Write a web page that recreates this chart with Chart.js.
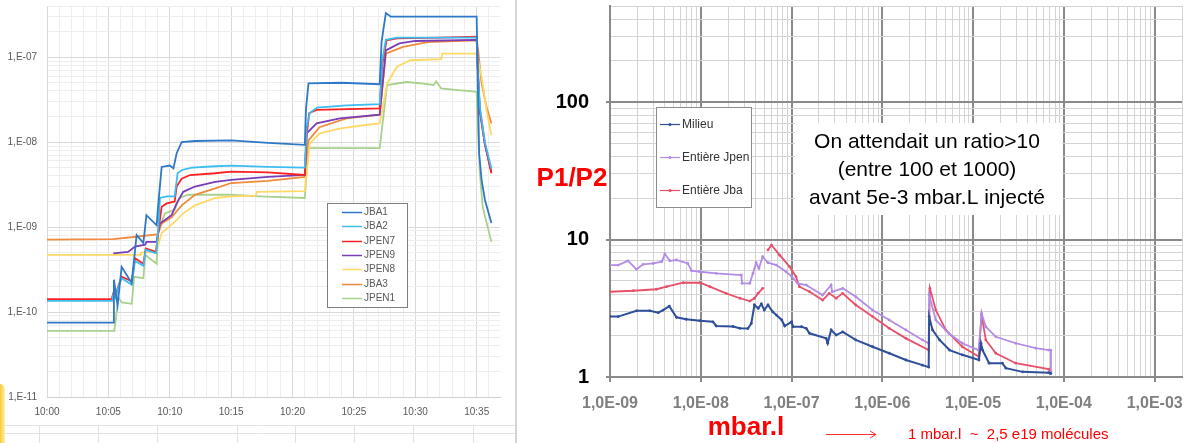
<!DOCTYPE html>
<html>
<head>
<meta charset="utf-8">
<script src="https://cdn.jsdelivr.net/npm/chart.js@4.4.1/dist/chart.umd.min.js"></script>
<style>
  html, body { margin: 0; padding: 0; background: #fff; }
  body { width: 1186px; height: 443px; position: relative; overflow: hidden; }
  #left { position: absolute; left: 0; top: 0; }
  #right { position: absolute; left: 520px; top: 0; }
  #sep { position: absolute; left: 515px; top: 0; width: 2px; height: 443px; background: #d6d6d6; }
  #blob { position: absolute; left: 0; top: 384px; width: 5px; height: 59px;
          background: linear-gradient(to right, #f5cc30, #fdf0b8); border-radius: 0 5px 0 0; }
</style>
</head>
<body>
<canvas id="left" width="515" height="443"></canvas>
<div id="sep"></div>
<div id="blob"></div>
<canvas id="right" width="666" height="443"></canvas>
<script>
  // ---- left chart : pressure vs time (minutes after 10:00) ----
  const timeLabels = ['10:00', '10:05', '10:10', '10:15', '10:20', '10:25', '10:30', '10:35'];
  const leftDecades = [1e-11, 1e-10, 1e-9, 1e-8, 1e-7];
  const leftYLabels = ['1,E-11', '1,E-10', '1,E-09', '1,E-08', '1,E-07'];
  const leftNames = ['JBA1', 'JBA2', 'JPEN7', 'JPEN9', 'JPEN8', 'JBA3', 'JPEN1'];

  const JBA1 = [[0, 7.5e-11], [5.4, 7.5e-11], [5.45, 2.4e-10], [5.75, 1.2e-10], [6.08, 3.4e-10], [6.9, 2.2e-10],
    [7.3, 8.1e-10], [7.85, 6.5e-10], [8.1, 1.38e-9], [8.93, 1.05e-9], [9.07, 1.9e-9], [9.34, 5.1e-9], [10.0, 5.3e-9],
    [10.3, 4.9e-9], [10.56, 7.4e-9], [10.97, 1.0e-8], [12.05, 1.03e-8], [15, 1.05e-8], [18, 9.8e-9], [21.0, 9.3e-9],
    [21.1, 2.5e-8], [21.3, 4.9e-8], [24, 5.0e-8], [27.1, 4.8e-8], [27.25, 1.5e-7], [27.6, 3.3e-7], [28.0, 3.0e-7],
    [35.0, 3.0e-7], [35.12, 3.1e-8], [35.2, 7.4e-9], [35.4, 3.6e-9], [35.67, 2.1e-9], [36.2, 1.12e-9]];
  const JBA2 = [[0, 1.35e-10], [5.3, 1.35e-10], [5.4, 1.6e-10], [5.6, 1.45e-10], [5.75, 1.85e-10], [6.08, 2.5e-10],
    [6.9, 2.1e-10], [7.17, 4.0e-10], [7.85, 3.5e-10], [8.04, 5.4e-10], [8.88, 4.9e-10], [9.07, 9.5e-10], [9.2, 2.2e-9],
    [9.75, 2.3e-9], [10.4, 2.3e-9], [10.64, 4.3e-9], [11.0, 4.7e-9], [11.8, 5.0e-9], [13.7, 5.2e-9], [15, 5.3e-9],
    [18, 5.1e-9], [21.0, 5.0e-9], [21.15, 1.5e-8], [21.4, 2.2e-8], [22.0, 2.55e-8], [24.4, 2.7e-8], [27.1, 2.8e-8],
    [27.3, 9e-8], [27.6, 1.6e-7], [28.5, 1.7e-7], [35.0, 1.7e-7], [35.12, 6.2e-8], [35.26, 2.6e-8], [35.67, 1.0e-8],
    [36.2, 4.9e-9]];
  const JPEN7 = [[0, 1.42e-10], [5.27, 1.42e-10], [5.4, 1.66e-10], [5.6, 1.55e-10], [5.75, 1.9e-10], [6.08, 2.6e-10],
    [6.9, 2.3e-10], [7.17, 4.3e-10], [7.85, 3.7e-10], [8.04, 5.6e-10], [8.88, 5.1e-10], [9.07, 9.1e-10], [9.34, 1.73e-9],
    [9.75, 1.9e-9], [10.4, 2.0e-9], [10.56, 3.0e-9], [10.97, 3.7e-9], [11.65, 4.1e-9], [13.7, 4.3e-9], [15, 4.5e-9],
    [18, 4.4e-9], [21.0, 4.1e-9], [21.15, 1.2e-8], [21.36, 2.2e-8], [21.96, 2.4e-8], [27.1, 2.5e-8], [27.3, 8e-8],
    [27.66, 1.58e-7], [28.5, 1.66e-7], [32, 1.7e-7], [35.0, 1.74e-7], [35.12, 5.9e-8], [35.26, 2.4e-8],
    [35.67, 9.6e-9], [36.2, 4.3e-9]];
  const JPEN9 = [[5.4, 4.9e-10], [6.6, 5.1e-10], [7.17, 5.9e-10], [8.0, 6.2e-10], [8.1, 6.7e-10], [8.93, 6.7e-10],
    [9.2, 1.1e-9], [10.15, 1.38e-9], [10.56, 1.9e-9], [11.1, 2.6e-9], [12.05, 3.0e-9], [13.7, 3.4e-9], [15, 3.6e-9],
    [18, 3.9e-9], [21.0, 4.1e-9], [21.15, 1.27e-8], [21.96, 1.66e-8], [23.86, 1.9e-8], [27.1, 2.1e-8], [27.6, 1.2e-7],
    [28.7, 1.45e-7], [30, 1.55e-7], [35.0, 1.6e-7], [35.12, 5.5e-8], [35.26, 2.3e-8], [35.67, 9.3e-9], [36.2, 4.4e-9]];
  const JPEN8 = [[0, 4.7e-10], [7.6, 4.7e-10], [7.65, 5.0e-10], [8.8, 5.1e-10], [9.07, 6.2e-10], [9.34, 8.5e-10],
    [9.9, 1.0e-9], [10.4, 1.15e-9], [11.1, 1.45e-9], [12.05, 1.8e-9], [13.7, 2.2e-9], [15, 2.3e-9], [17, 2.35e-9],
    [17.1, 2.6e-9], [21.0, 2.65e-9], [21.4, 9.6e-9], [22.2, 1.27e-8], [23.9, 1.45e-8], [25.8, 1.58e-8], [27.1, 1.66e-8],
    [27.7, 4.9e-8], [28.5, 7.7e-8], [29.6, 9.2e-8], [32.1, 9.5e-8], [32.2, 1.1e-7], [35.0, 1.1e-7], [35.4, 5.9e-8],
    [35.8, 2.4e-8], [36.2, 1.2e-8]];
  const JBA3 = [[0, 7.1e-10], [5.4, 7.2e-10], [7.6, 7.8e-10], [8.93, 8.2e-10], [9.07, 8.5e-10], [9.34, 1.1e-9],
    [10.15, 1.3e-9], [10.97, 1.8e-9], [12.05, 2.4e-9], [13.7, 2.85e-9], [15, 3.3e-9], [18, 3.5e-9], [21.0, 3.9e-9],
    [21.3, 1.05e-8], [22.2, 1.5e-8], [24.4, 1.9e-8], [27.1, 2.1e-8], [27.6, 1.1e-7], [29.0, 1.32e-7], [31, 1.5e-7],
    [35.0, 1.58e-7], [35.12, 1.2e-7], [35.4, 4.9e-8], [35.8, 2.6e-8], [36.2, 1.66e-8]];
  const JPEN1 = [[0, 6.0e-11], [5.48, 6.0e-11], [5.6, 8.1e-11], [5.8, 1.5e-10], [6.08, 1.3e-10], [6.9, 1.25e-10],
    [7.1, 2.6e-10], [7.85, 2.5e-10], [8.0, 4.7e-10], [8.93, 3.7e-10], [9.07, 9.1e-10], [9.6, 1.45e-9], [10.4, 1.6e-9],
    [10.8, 2.2e-9], [11.5, 2.4e-9], [15, 2.4e-9], [17.3, 2.3e-9], [21.0, 2.2e-9], [21.3, 8.5e-9], [27.1, 8.5e-9],
    [27.7, 4.7e-8], [29.3, 5.1e-8], [30.5, 4.9e-8], [31.5, 4.7e-8], [31.7, 5.2e-8], [32.1, 4.3e-8], [33.5, 4.1e-8],
    [35.0, 3.9e-8], [35.12, 1.27e-8], [35.26, 4.3e-9], [35.5, 1.7e-9], [36.2, 6.7e-10]];

  // ---- right chart : P1/P2 vs injected mbar.l ----
  const rightXDecades = [1e-9, 1e-8, 1e-7, 1e-6, 1e-5, 1e-4, 1e-3];
  const rightXLabels = ['1,0E-09', '1,0E-08', '1,0E-07', '1,0E-06', '1,0E-05', '1,0E-04', '1,0E-03'];
  const rightYDecades = [1, 10, 100];
  const rightYLabels = ['1', '10', '100'];
  const rightNames = ['Milieu', 'Entière Jpen', 'Entière Jba'];
  const noteLines = ['On attendait un ratio>10', '(entre 100 et 1000)', 'avant 5e-3 mbar.L injecté'];

  const MILIEU = [[1e-9, 2.75], [1.23e-9, 2.75], [1.96e-9, 3.03], [2.75e-9, 3.03], [3.4e-9, 2.94], [3.85e-9, 3.07],
    [4.5e-9, 3.28], [5.4e-9, 2.72], [6.9e-9, 2.63], [9.8e-9, 2.57], [1.36e-8, 2.52], [1.48e-8, 2.35], [2.26e-8, 2.33],
    [2.7e-8, 2.26], [3.3e-8, 2.25], [3.6e-8, 2.45], [3.9e-8, 3.34], [4.3e-8, 3.16], [4.65e-8, 3.4], [5.0e-8, 3.07],
    [5.5e-8, 3.34], [6.2e-8, 2.98], [6.8e-8, 2.82], [7.8e-8, 2.6], [8.4e-8, 2.35], [1.0e-7, 2.52], [1.04e-7, 2.32],
    [1.29e-7, 2.32], [1.45e-7, 2.26], [1.58e-7, 2.08], [2.4e-7, 1.91], [2.5e-7, 1.76], [2.73e-7, 2.2], [3.1e-7, 2.02],
    [3.66e-7, 2.13], [5.1e-7, 1.86], [7.8e-7, 1.66], [1.19e-6, 1.49], [1.82e-6, 1.33], [2.77e-6, 1.22], [3.24e-6, 1.18],
    [3.28e-6, 2.75], [3.57e-6, 2.2], [4.27e-6, 1.86], [5.5e-6, 1.57], [7.6e-6, 1.45], [1.16e-5, 1.33], [1.22e-5, 1.76],
    [1.27e-5, 1.57], [1.5e-5, 1.26], [2.1e-5, 1.26], [2.3e-5, 1.16], [3.5e-5, 1.09], [6.8e-5, 1.075], [7.15e-5, 1.06]];
  const JPEN = [[1e-9, 6.52], [1.23e-9, 6.52], [1.58e-9, 7.0], [1.96e-9, 6.07], [2.32e-9, 6.6], [2.99e-9, 6.7],
    [3.72e-9, 6.9], [4.02e-9, 7.85], [4.57e-9, 7.0], [5.4e-9, 7.1], [7.2e-9, 6.7], [7.9e-9, 5.93], [9.8e-9, 5.83],
    [1.48e-8, 5.68], [2.8e-8, 5.52], [2.85e-8, 4.8], [3.47e-8, 4.8], [3.76e-8, 5.68], [4.07e-8, 6.78], [4.37e-8, 6.17],
    [4.8e-8, 7.5], [5.5e-8, 6.78], [6.8e-8, 6.52], [8.7e-8, 5.83], [1.0e-7, 5.4], [1.17e-7, 4.8], [1.45e-7, 4.67],
    [2.2e-7, 3.95], [2.73e-7, 4.67], [2.8e-7, 4.17], [3.66e-7, 4.42], [5.1e-7, 3.84], [7.8e-7, 3.07], [1.19e-6, 2.6],
    [1.82e-6, 2.2], [2.77e-6, 1.86], [3.24e-6, 1.76], [3.28e-6, 3.95], [3.88e-6, 2.6], [5.4e-6, 2.08], [7.6e-6, 1.76],
    [1.15e-5, 1.57], [1.24e-5, 2.9], [1.38e-5, 2.32], [1.78e-5, 1.96], [2.95e-5, 1.76], [4.9e-5, 1.62], [6.8e-5, 1.57],
    [7.2e-5, 1.57], [7.2e-5, 1.06]];
  const JBA = [[1e-9, 4.17], [1.8e-9, 4.24], [3.24e-9, 4.35], [4.2e-9, 4.54], [6.4e-9, 4.85], [9.8e-9, 4.85],
    [1.26e-8, 4.54], [1.9e-8, 4.06], [2.7e-8, 3.74], [3.47e-8, 3.57], [3.9e-8, 3.74], [4.27e-8, 4.06], [4.8e-8, 4.42],
    [5.2e-8, null], [5.5e-8, 8.4], [6.0e-8, 9.12], [7.4e-8, 7.7], [9.5e-8, 6.35], [1.12e-7, 5.37], [1.22e-7, 4.54],
    [1.58e-7, 4.17], [2.2e-7, 3.63], [2.6e-7, 4.06], [3.1e-7, 3.74], [3.66e-7, 4.06], [5.1e-7, 3.34], [7.8e-7, 2.75],
    [1.19e-6, 2.26], [1.82e-6, 1.91], [3.24e-6, 1.57], [3.34e-6, 4.42], [3.88e-6, 3.07], [5.0e-6, 2.2], [7.6e-6, 1.66],
    [1.15e-5, 1.41], [1.24e-5, 2.82], [1.38e-5, 1.86], [1.78e-5, 1.49], [2.95e-5, 1.26], [6.8e-5, 1.14], [7.2e-5, 1.09]];

  const FONT = 'Liberation Sans';

  function decadeTicks(decades, max) {
    const out = [];
    decades.forEach(d => {
      for (let m = 1; m <= 9; m++) {
        const v = m * d;
        if (v <= max * 1.0001) out.push({ value: v, major: m === 1 });
      }
    });
    return out;
  }
  function decadeLabel(v, decades, labels) {
    const i = decades.findIndex(d => Math.abs(Math.log10(v / d)) < 1e-6);
    return i < 0 ? '' : labels[i];
  }
  const toXY = arr => arr.map(p => ({ x: p[0], y: p[1] }));
  // fixed axis boxes, no extra label overflow padding
  const fixH = h => s => { s.height = h; s.paddingLeft = 0; s.paddingRight = 0; };
  const fixW = w => s => { s.width = w; s.paddingTop = 0; s.paddingBottom = 0; };

  // ---------- left chart ----------
  const leftColors = ['#2e78c7', '#3dbcf0', '#ff2020', '#7a3db8', '#ffd966', '#f08a3c', '#a9d18e'];
  const leftData = [JBA1, JBA2, JPEN7, JPEN9, JPEN8, JBA3, JPEN1];

  const leftExtras = {
    id: 'leftExtras',
    afterDraw(chart) {
      const c = chart.ctx;
      c.save();
      // spreadsheet cells below the chart
      c.strokeStyle = '#e2e2e2';
      c.lineWidth = 1;
      [425.5, 433.5].forEach(y => { c.beginPath(); c.moveTo(0, y); c.lineTo(515, y); c.stroke(); });
      [39.5, 98.5, 157.5, 237.5, 295.5, 354.5, 413.5, 473.5].forEach(x => {
        c.beginPath(); c.moveTo(x, 425); c.lineTo(x, 443); c.stroke();
      });
      // legend
      c.fillStyle = '#fff';
      c.fillRect(327, 203, 80, 104);
      c.strokeStyle = '#7f7f7f';
      c.strokeRect(327.5, 203.5, 80, 104);
      c.font = '10px "' + FONT + '"';
      c.textBaseline = 'middle';
      chart.data.datasets.forEach((ds, i) => {
        const y = Math.round(212 + i * 14.3) + 0.5;
        c.strokeStyle = ds.borderColor;
        c.lineWidth = 1.5;
        c.beginPath(); c.moveTo(342, y); c.lineTo(362, y); c.stroke();
        c.fillStyle = '#595959';
        c.fillText(ds.label, 364, y);
      });
      c.restore();
    }
  };

  new Chart(document.getElementById('left'), {
    type: 'line',
    data: {
      datasets: leftNames.map((n, i) => ({
        label: n,
        data: toXY(leftData[i]),
        borderColor: leftColors[i],
        backgroundColor: leftColors[i],
        borderWidth: 1.8,
        pointRadius: 0,
        tension: 0
      }))
    },
    options: {
      responsive: false,
      animation: false,
      events: [],
      layout: { padding: { top: 6, right: 15, left: 0, bottom: 0 } },
      plugins: { legend: { display: false }, tooltip: { enabled: false } },
      scales: {
        x: {
          type: 'linear', min: 0, max: 36.9,
          afterBuildTicks: s => { s.ticks = []; for (let m = 0; m <= 36; m++) s.ticks.push({ value: m, major: m % 5 === 0 }); },
          afterFit: fixH(46),
          grid: {
            drawTicks: false,
            color: ctx => (ctx.tick && ctx.tick.major) ? '#d9d9d9' : '#eeeeee'
          },
          border: { color: '#d0d0d0' },
          ticks: {
            autoSkip: false, maxRotation: 0, minRotation: 0, padding: 9,
            color: '#595959', font: { family: FONT, size: 10 },
            callback: v => (v % 5 === 0 ? timeLabels[v / 5] : '')
          }
        },
        y: {
          type: 'logarithmic', min: 1e-11, max: 4e-7,
          afterBuildTicks: s => { s.ticks = decadeTicks(leftDecades, 4e-7); },
          afterFit: fixW(47),
          grid: {
            drawTicks: false,
            color: ctx => (ctx.tick && ctx.tick.major) ? '#d9d9d9' : '#eeeeee'
          },
          border: { color: '#d9d9d9' },
          ticks: {
            autoSkip: false, padding: 10,
            color: '#595959', font: { family: FONT, size: 10 },
            callback: v => decadeLabel(v, leftDecades, leftYLabels)
          }
        }
      }
    },
    plugins: [leftExtras]
  });

  // ---------- right chart ----------
  const rightColors = ['#2f4f9a', '#b28ce6', '#e8506a'];
  const rightData = [MILIEU, JPEN, JBA];

  const rightExtras = {
    id: 'rightExtras',
    afterDraw(chart) {
      const c = chart.ctx;
      c.save();
      // note box
      c.fillStyle = '#fff';
      c.fillRect(275, 123, 267, 92);
      c.fillStyle = '#000';
      c.font = '21px "' + FONT + '"';
      c.textAlign = 'center';
      c.textBaseline = 'middle';
      noteLines.forEach((t, i) => c.fillText(t, 407, 142 + i * 28));
      // legend
      c.fillStyle = '#fff';
      c.fillRect(136, 107, 95, 100);
      c.strokeStyle = '#8c8c8c';
      c.lineWidth = 1;
      c.strokeRect(136.5, 107.5, 95, 100);
      c.textAlign = 'left';
      c.font = '12px "' + FONT + '"';
      chart.data.datasets.forEach((ds, i) => {
        const y = 124.5 + i * 33;
        c.strokeStyle = ds.borderColor;
        c.lineWidth = 1.2;
        c.beginPath(); c.moveTo(140, y); c.lineTo(160, y); c.stroke();
        c.fillStyle = ds.borderColor;
        c.beginPath(); c.arc(150, y, 1.5, 0, Math.PI * 2); c.fill();
        c.fillStyle = '#333';
        c.fillText(ds.label, 162, y);
      });
      // axis titles
      c.fillStyle = '#ff0000';
      c.font = 'bold 26px "' + FONT + '"';
      c.textAlign = 'center';
      c.fillText('P1/P2', 52, 179);
      c.fillText('mbar.l', 226, 428);
      // arrow + note
      c.strokeStyle = '#ff3030';
      c.lineWidth = 1;
      c.beginPath(); c.moveTo(306, 434.5); c.lineTo(356, 434.5);
      c.moveTo(350, 431); c.lineTo(356, 434.5); c.lineTo(350, 438); c.stroke();
      c.font = '15px "' + FONT + '"';
      c.textAlign = 'left';
      c.fillText('1 mbar.l  ~  2,5 e19 molécules', 388, 435);
      c.restore();
    }
  };

  new Chart(document.getElementById('right'), {
    type: 'line',
    data: {
      datasets: rightNames.map((n, i) => ({
        label: n,
        data: toXY(rightData[i]),
        borderColor: rightColors[i],
        backgroundColor: rightColors[i],
        borderWidth: i === 0 ? 2 : 1.8,
        pointRadius: 1.4,
        pointBorderWidth: 0,
        spanGaps: false,
        tension: 0
      }))
    },
    options: {
      responsive: false,
      animation: false,
      events: [],
      layout: { padding: { top: 6, right: 4, left: 0, bottom: 0 } },
      plugins: { legend: { display: false }, tooltip: { enabled: false } },
      scales: {
        x: {
          type: 'logarithmic', min: 1e-9, max: 2e-3,
          afterBuildTicks: s => { s.ticks = decadeTicks(rightXDecades, 2e-3); },
          afterFit: fixH(66),
          grid: {
            tickLength: 5,
            color: ctx => (ctx.tick && ctx.tick.major) ? '#8a8a8a' : '#d4d4d4',
            lineWidth: ctx => (ctx.tick && ctx.tick.major) ? 2 : 1,
            tickColor: ctx => (ctx.tick && ctx.tick.major) ? '#8a8a8a' : 'rgba(0,0,0,0)'
          },
          border: { color: '#8a8a8a', width: 2 },
          ticks: {
            autoSkip: false, maxRotation: 0, minRotation: 0, padding: 12,
            color: '#7f7f7f', font: { family: FONT, size: 16, weight: 'bold' },
            callback: v => decadeLabel(v, rightXDecades, rightXLabels)
          }
        },
        y: {
          type: 'logarithmic', min: 1, max: 500,
          afterBuildTicks: s => { s.ticks = decadeTicks(rightYDecades, 500); },
          afterFit: fixW(90),
          grid: {
            tickLength: 4,
            color: ctx => (ctx.tick && ctx.tick.major) ? '#8a8a8a' : '#d4d4d4',
            lineWidth: ctx => (ctx.tick && ctx.tick.major) ? 2 : 1,
            tickColor: ctx => (ctx.tick && ctx.tick.major) ? '#8a8a8a' : 'rgba(0,0,0,0)'
          },
          border: { color: '#8a8a8a', width: 2 },
          ticks: {
            autoSkip: false, padding: 17,
            color: '#000', font: { family: FONT, size: 20, weight: 'bold' },
            callback: v => decadeLabel(v, rightYDecades, rightYLabels)
          }
        }
      }
    },
    plugins: [rightExtras]
  });
</script>
</body>
</html>
